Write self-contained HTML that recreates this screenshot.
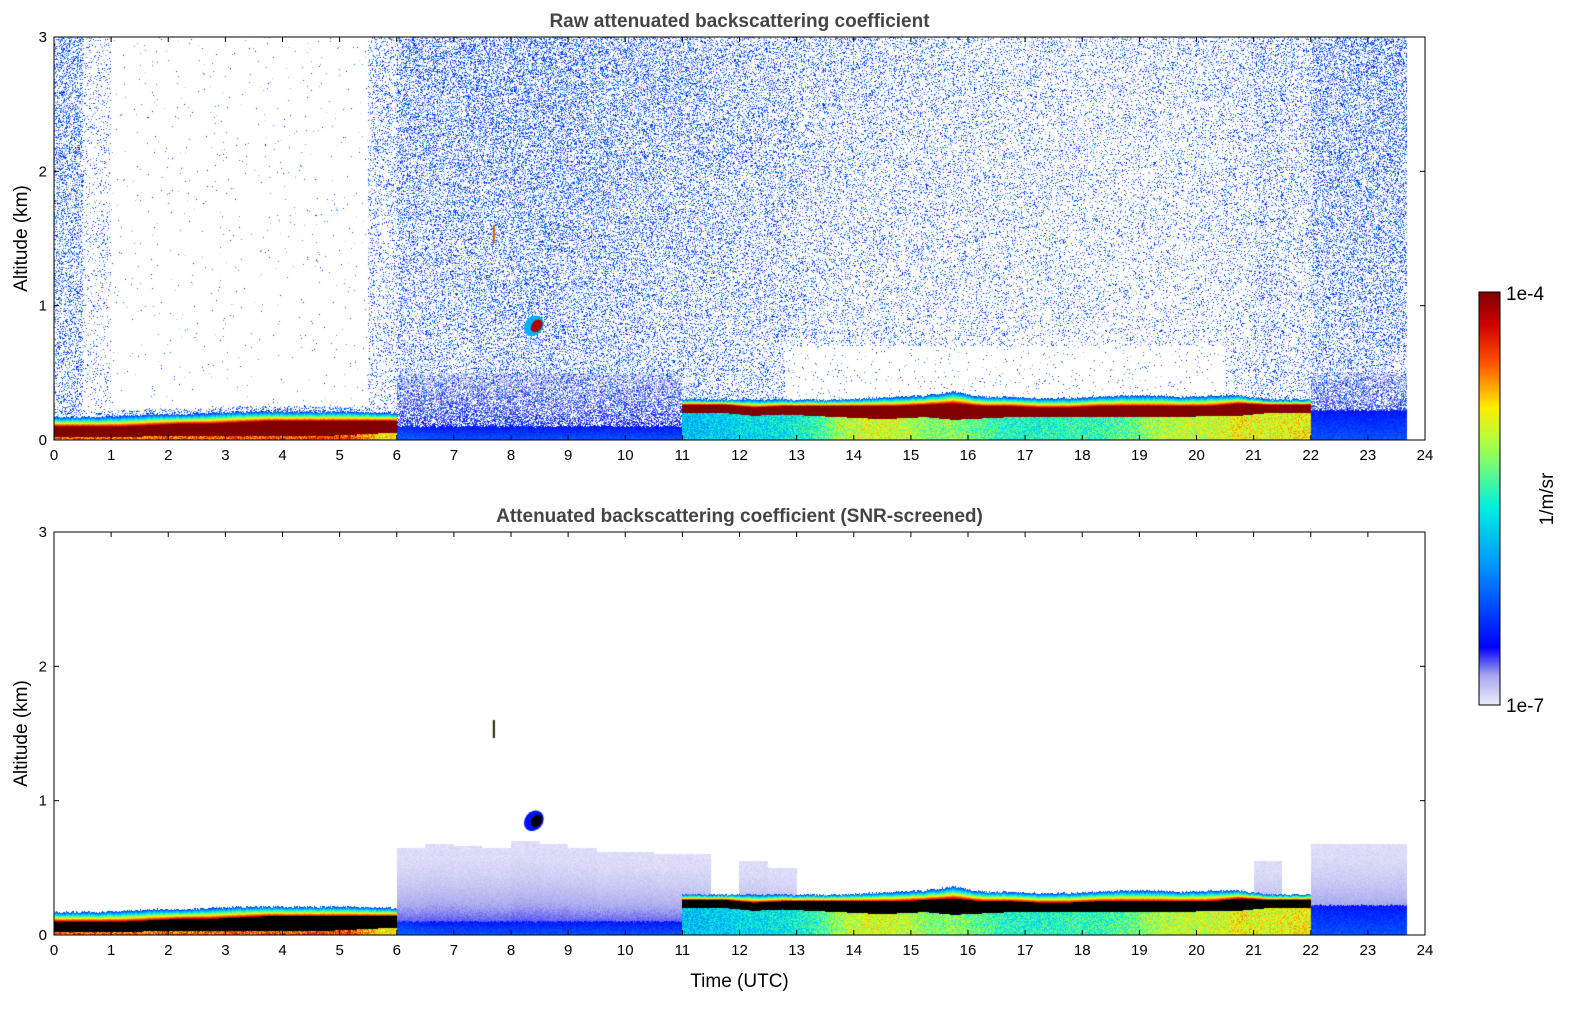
<!DOCTYPE html>
<html><head><meta charset="utf-8"><style>
body{margin:0;background:#fff;width:1595px;height:1020px;overflow:hidden;font-family:"Liberation Sans",sans-serif}
</style></head><body>
<svg id="root" width="1595" height="1020" style="position:absolute;left:0;top:0">
<defs><linearGradient id="cbg" x1="0" y1="1" x2="0" y2="0">
<stop offset="0" stop-color="#ececfb"/><stop offset="0.07" stop-color="#a8a8ee"/><stop offset="0.14" stop-color="#0000ff"/>
<stop offset="0.33" stop-color="#0090ff"/><stop offset="0.48" stop-color="#00f0e0"/><stop offset="0.62" stop-color="#a0ff50"/>
<stop offset="0.72" stop-color="#ffee00"/><stop offset="0.83" stop-color="#ff5000"/><stop offset="0.92" stop-color="#d00000"/><stop offset="1" stop-color="#800000"/></linearGradient></defs>
</svg>
<script>
const times=[0,0.5,1,1.5,2,2.5,3,3.5,4,4.5,5,5.5,6,6.5,7,7.5,8,8.5,9,9.5,10,10.5,11,11.5,12,12.5,13,13.5,14,14.5,15,15.5,16,16.5,17,17.5,18,18.5,19,19.5,20,20.5,21,21.5,22,22.5,23,23.5];
const layerTop=[0.17,0.17,0.18,0.19,0.19,0.2,0.21,0.21,0.21,0.21,0.21,0.2,0.1,0.1,0.1,0.1,0.1,0.1,0.1,0.1,0.1,0.1,0.3,0.3,0.3,0.3,0.3,0.3,0.31,0.32,0.33,0.36,0.32,0.32,0.31,0.31,0.32,0.33,0.33,0.32,0.33,0.33,0.3,0.3,0.22,0.22,0.22,0.22];
const coreLo=[0.02,0.02,0.02,0.03,0.03,0.03,0.03,0.03,0.03,0.03,0.04,0.05,0,0,0,0,0,0,0,0,0,0,0.2,0.2,0.18,0.19,0.18,0.17,0.16,0.16,0.17,0.15,0.16,0.17,0.17,0.17,0.17,0.17,0.17,0.17,0.18,0.18,0.2,0.2,0,0,0,0];
const coreHi=[0.1,0.1,0.1,0.11,0.12,0.12,0.13,0.14,0.14,0.14,0.14,0.14,0,0,0,0,0,0,0,0,0,0,0.26,0.26,0.24,0.25,0.25,0.25,0.25,0.25,0.26,0.27,0.25,0.25,0.24,0.24,0.25,0.25,0.25,0.25,0.25,0.27,0.26,0.26,0,0,0,0];
const subVal=[0.82,0.82,0.82,0.82,0.82,0.82,0.84,0.84,0.84,0.84,0.84,0.7,0.22,0.2,0.2,0.2,0.2,0.2,0.2,0.2,0.2,0.2,0.4,0.42,0.45,0.45,0.5,0.62,0.68,0.66,0.6,0.6,0.55,0.5,0.5,0.52,0.52,0.55,0.62,0.65,0.66,0.7,0.68,0.7,0.2,0.2,0.2,0.2];
const noiseTop=[0.5,0.15,0.01,0.01,0.01,0.01,0.01,0.01,0.01,0.01,0.01,0.3,0.5,0.5,0.5,0.52,0.55,0.55,0.52,0.5,0.48,0.45,0.45,0.42,0.4,0.38,0.32,0.3,0.3,0.28,0.28,0.26,0.26,0.25,0.24,0.24,0.22,0.22,0.22,0.22,0.25,0.25,0.35,0.3,0.5,0.52,0.52,0.52];
const hazeTop=[0,0,0,0,0,0,0,0,0,0,0,0.1,0.65,0.68,0.66,0.65,0.7,0.68,0.65,0.62,0.62,0.6,0.6,0.1,0.55,0.5,0,0,0,0,0,0,0,0,0,0,0,0,0,0,0,0,0.55,0,0.68,0.68,0.68,0.68];
const xTicks=[0,1,2,3,4,5,6,7,8,9,10,11,12,13,14,15,16,17,18,19,20,21,22,23,24];
const yTicks=[0,1,2,3];
const tEnd=23.68;

const svg=document.getElementById('root');const NS='http://www.w3.org/2000/svg';
const X0=54,X1=1425,W=X1-X0;
const xs=t=>X0+t/24*W;
function mk(tag,attrs,parent){const e=document.createElementNS(NS,tag);for(const k in attrs)e.setAttribute(k,attrs[k]);(parent||svg).appendChild(e);return e;}
const stops=[[0,[236,236,251]],[0.07,[168,168,238]],[0.14,[0,0,255]],[0.33,[0,144,255]],[0.48,[0,240,224]],[0.62,[160,255,80]],[0.72,[255,238,0]],[0.83,[255,80,0]],[0.92,[208,0,0]],[1,[128,0,0]]];
function cmap(v){v=Math.max(0,Math.min(1,v));for(let i=1;i<stops.length;i++){if(v<=stops[i][0]){const a=stops[i-1],b=stops[i],f=(v-a[0])/(b[0]-a[0]);return a[1].map((c,j)=>Math.round(c+(b[1][j]-c)*f));}}return stops[stops.length-1][1];}
function hash(x,y){let h=x*374761393+y*668265263;h=(h^(h>>>13))*1274126177;h=h^(h>>>16);return ((h>>>0)%10000)/10000;}
function step(arr,t){return arr[Math.min(arr.length-1,Math.floor(t*2))];}
function lin(arr,t){const p=t*2-0.5;let i=Math.floor(p);if(i<0)return arr[0];if(i>=arr.length-1)return arr[arr.length-1];
  if((coreHi[i]>0)!==(coreHi[i+1]>0))return arr[p-i<0.5?i:i+1];const f=p-i;return arr[i]*(1-f)+arr[i+1]*f;}

function plot(top,screened,title,xlabel,name){
  const H=403,Y0=top,Y1=top+H;const ys=h=>Y1-h/3*H;
  const g=mk('g',{});
  const fo=mk('foreignObject',{x:X0,y:Y0,width:W,height:H},g);
  const cv=document.createElement('canvas');cv.width=W;cv.height=H;cv.style.display='block';fo.appendChild(cv);
  
  const ctx=cv.getContext('2d');const img=ctx.createImageData(W,H);const d=img.data;
  for(let px=0;px<W;px++){const t=(px+0.5)/W*24;
    const bt=lin(layerTop,t)+(hash(px,3)-0.5)*0.015,cl=lin(coreLo,t),ch=lin(coreHi,t),sv=lin(subVal,t),nz=step(noiseTop,t),hz=step(hazeTop,t);
    for(let py=0;py<H;py++){const h=(H-py-0.5)/H*3;let col=[255,255,255];
      if(t<tEnd){
        const r=hash(px,py),r2=hash(py+7,px*3+1);
        if(h<bt){let v;
          if(ch>0){ if(h<cl) v=sv+(r2-0.5)*0.2; else if(h<=ch) v=1; else v=0.95-(h-ch)/(bt-ch)*0.75; }
          else v=sv+0.05-(h/bt)*0.08+(r2-0.5)*0.06;
          if(screened&&ch>0&&h>=cl&&h<=ch) col=[0,0,0]; else col=cmap(v);
        } else {
          if(!screened){let dens=nz*(0.7+h*0.15);
            if(t>0.75&&t<5.6&&h<bt+0.04) dens=0.5;
            if(t>12.8&&t<20.5&&h<0.7) dens=0.03;
            if(ch===0&&t>5.7&&h<0.5){ if(r<0.6) col=cmap(0.03+0.09*(1-h/0.5)+r2*0.05); }
            if(r<dens*0.45) col=cmap(0.15+r2*0.2); else if(r<dens*0.7) col=cmap(0.04+r2*0.06);
          } else if(h<hz){const f=1-h/hz;col=cmap(0.015+f*f*0.12+(r2-0.5)*0.02);}
        }
      }
      const k=(py*W+px)*4;d[k]=col[0];d[k+1]=col[1];d[k+2]=col[2];d[k+3]=255;}
  }
  ctx.putImageData(img,0,0);
  const cx=t=>(t/24)*W,cy=h=>H-h/3*H;
  ctx.fillStyle=screened?'#0010ff':'#00b0ff';
  ctx.beginPath();ctx.ellipse(cx(8.4),cy(0.85),11,9,-0.9,0,7);ctx.fill();
  ctx.fillStyle=screened?'#000':'#b00000';
  ctx.beginPath();ctx.ellipse(cx(8.45),cy(0.85),7,5,-0.9,0,7);ctx.fill();
  ctx.fillStyle=screened?'#202000':'#d06000';ctx.fillRect(cx(7.7)-1,cy(1.6),2,18);
  mk('rect',{x:X0,y:Y0,width:W,height:H,fill:'none',stroke:'#000','stroke-width':1},g);
  xTicks.forEach(v=>{const x=xs(v);mk('line',{x1:x,x2:x,y1:Y1,y2:Y1-5,stroke:'#000'},g);mk('line',{x1:x,x2:x,y1:Y0,y2:Y0+5,stroke:'#000'},g);
    const tx=mk('text',{x:x,y:Y1+20,'text-anchor':'middle','font-size':15},g);tx.textContent=v;});
  yTicks.forEach(v=>{const y=ys(v);mk('line',{x1:X0,x2:X0+5,y1:y,y2:y,stroke:'#000'},g);mk('line',{x1:X1,x2:X1-5,y1:y,y2:y,stroke:'#000'},g);
    const tx=mk('text',{x:X0-7,y:y+5,'text-anchor':'end','font-size':15},g);tx.textContent=v;});
  const tt=mk('text',{x:(X0+X1)/2,y:Y0-10,'text-anchor':'middle','font-size':19,'font-weight':'bold',fill:'#444'},g);tt.textContent=title;
  
  const yl=mk('text',{x:0,y:0,'text-anchor':'middle','font-size':19,transform:`translate(27,${(Y0+Y1)/2}) rotate(-90)`},g);yl.textContent='Altitude (km)';
  
  if(xlabel){const xl=mk('text',{x:(X0+X1)/2,y:Y1+52,'text-anchor':'middle','font-size':19},g);xl.textContent=xlabel;
    }
}
plot(37,false,'Raw attenuated backscattering coefficient','','raw-backscatter-panel');
plot(532,true,'Attenuated backscattering coefficient (SNR-screened)','Time (UTC)','screened-backscatter-panel');
const cb=mk('g',{});
mk('rect',{x:1479,y:292,width:21,height:413,fill:'url(#cbg)',stroke:'#000'},cb);
const a=mk('text',{x:1506,y:300,'font-size':19},cb);a.textContent='1e-4';
const b=mk('text',{x:1506,y:712,'font-size':19},cb);b.textContent='1e-7';
const u=mk('text',{x:0,y:0,'text-anchor':'middle','font-size':19,transform:'translate(1553,499) rotate(-90)'},cb);u.textContent='1/m/sr';

</script>
</body></html>
